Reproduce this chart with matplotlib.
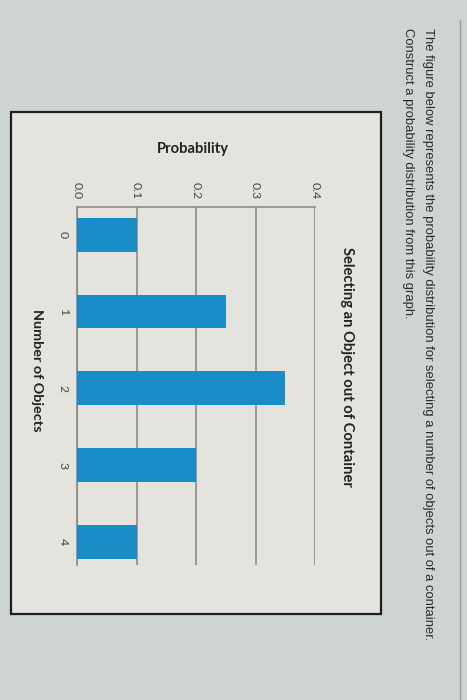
import matplotlib.pyplot as plt
from matplotlib.patches import Rectangle
from matplotlib.lines import Line2D

# photographed textbook question: bar chart shown rotated 90 degrees clockwise
NUM_OBJECTS = [0, 1, 2, 3, 4]
PROBABILITY = [0.10, 0.25, 0.35, 0.20, 0.10]
PROB_TICKS = [0.0, 0.1, 0.2, 0.3, 0.4]
PROB_TICK_LABELS = ["0.0", "0.1", "0.2", "0.3", "0.4"]

QUESTION_LINES = [
    "The figure below represents the probability distribution for selecting a number of objects out of a container.",
    "Construct a probability distribution from this graph.",
]
CHART_TITLE = "Selecting an Object out of Container"

W, H = 467, 700
PAGE = "#ced4d1"
PANEL = "#e5e3de"
BAR = "#188dc8"
GRID = "#858583"
INK = "#2b2b2b"


def fx(px):
    return px / W


def fy(py):
    return 1 - py / H


fig = plt.figure(figsize=(W / 100, H / 100), dpi=100, facecolor=PAGE)

# dialog edge on the right and the chart frame, kept behind the axes
fig.add_artist(Line2D([fx(460), fx(460)], [fy(20), fy(700)], color="#9a9e9c",
                      lw=1, zorder=-2))
fig.add_artist(Rectangle((fx(11), fy(614)), fx(381) - fx(11), fy(112) - fy(614),
                         facecolor=PANEL, edgecolor="#1e1e1e", lw=1.6, zorder=-2))

ax = fig.add_axes([fx(77), fy(565), fx(315) - fx(77), fy(207) - fy(565)])
ax.set_zorder(2)
ax.set_facecolor(PANEL)
ax.barh(NUM_OBJECTS, PROBABILITY, height=0.44, color=BAR, zorder=3)
ax.set_xlim(0, 0.4)
ax.set_ylim(4.3, -0.36)

ax.xaxis.tick_top()
ax.set_xticks(PROB_TICKS)
ax.set_xticklabels(PROB_TICK_LABELS, rotation=-90, fontsize=8.8, color="#444444",
                   family="Lato")
ax.set_yticks(NUM_OBJECTS)
ax.set_yticklabels([str(n) for n in NUM_OBJECTS], rotation=-90, fontsize=8.8,
                   color="#444444", family="Lato", va="center")
ax.tick_params(axis="x", length=0, pad=6)
ax.tick_params(axis="y", length=0, pad=6)
ax.grid(axis="x", color=GRID, lw=1.1, zorder=1)
for side in ["bottom", "right"]:
    ax.spines[side].set_visible(False)
for side in ["top", "left"]:
    ax.spines[side].set_color(GRID)
    ax.spines[side].set_linewidth(1.1)

fig.text(fx(193), fy(149), "Probability", ha="center", va="center",
         fontsize=10.6, fontweight="bold", family="Lato", color="#222222")
fig.text(fx(347), fy(367), CHART_TITLE, rotation=-90, ha="center", va="center",
         fontsize=10.6, fontweight="bold", family="Lato", color="#222222")
fig.text(fx(37), fy(370), "Number of Objects", rotation=-90, ha="center",
         va="center", fontsize=10.4, fontweight="bold", family="Lato",
         color="#222222")

for px, line in zip([428, 408], QUESTION_LINES):
    fig.text(fx(px), fy(28), line, rotation=-90, ha="center", va="top",
             fontsize=9.4, family="Liberation Sans", color=INK)

fig.savefig("out.png", dpi=100, facecolor=PAGE)
